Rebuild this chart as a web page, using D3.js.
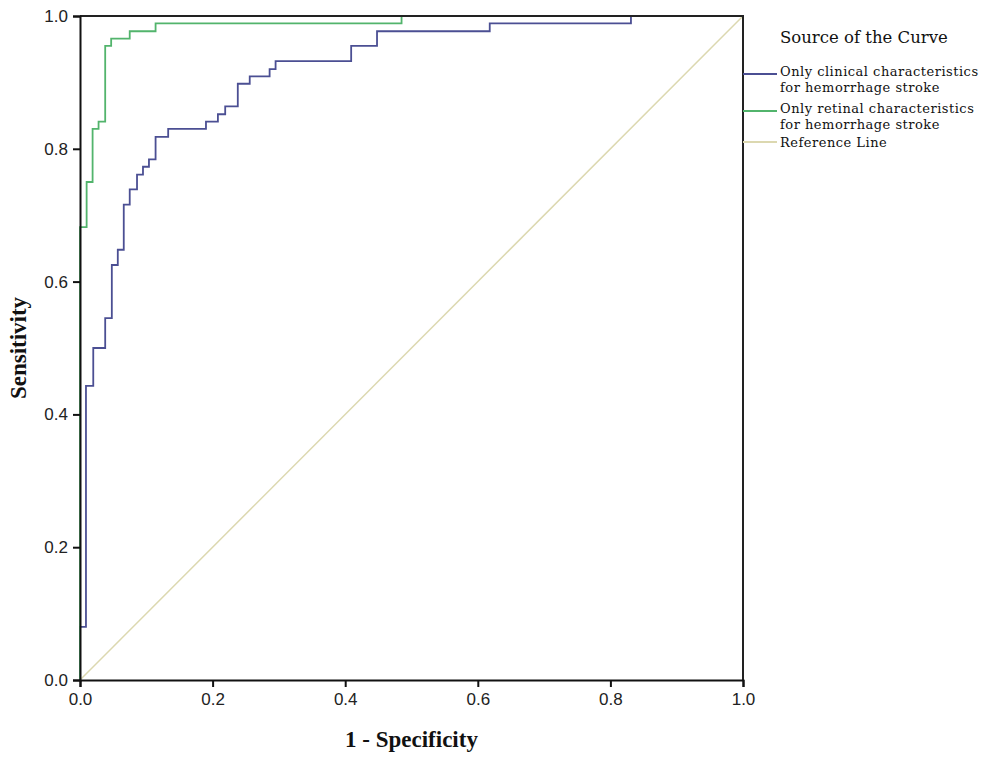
<!DOCTYPE html>
<html lang="en">
<head>
  <meta charset="UTF-8" />
  <title>ROC curves - hemorrhage stroke</title>
  <script src="https://d3js.org/d3.v7.min.js"></script>
  <style>
    body { margin: 0; background: #fff; }
    svg { display: block; }
    .tick text { font-family: "Liberation Sans", Arial, sans-serif; font-size: 17px; fill: #222; }
    .axis-title { font-family: "Liberation Serif", "Times New Roman", serif; font-weight: bold; font-size: 23px; fill: #111; }
    .legend text { font-family: "DejaVu Serif", serif; fill: #111; }
  </style>
</head>
<body>
<svg id="chart" width="992" height="758"></svg>
<script>
  // ROC points (1 - specificity, sensitivity), curve rises at each fpr
  const clinicalFpr = [0, 0, 0.009, 0.020, 0.038, 0.048, 0.057, 0.066, 0.075, 0.086, 0.095, 0.104, 0.114, 0.133,
                       0.190, 0.208, 0.219, 0.238, 0.256, 0.286, 0.295, 0.409, 0.448, 0.618, 0.831, 1];
  const clinicalTpr = [0, 0.080, 0.443, 0.500, 0.545, 0.625, 0.648, 0.716, 0.739, 0.761, 0.773, 0.784, 0.818, 0.830,
                       0.841, 0.852, 0.864, 0.898, 0.909, 0.920, 0.932, 0.955, 0.977, 0.989, 1, 1];

  const retinalFpr = [0, 0, 0.010, 0.019, 0.028, 0.038, 0.047, 0.075, 0.114, 0.485, 1];
  const retinalTpr = [0, 0.682, 0.750, 0.830, 0.841, 0.955, 0.966, 0.977, 0.989, 1, 1];

  const referenceFpr = [0, 1];
  const referenceTpr = [0, 1];

  const tickValues = [0, 0.2, 0.4, 0.6, 0.8, 1.0];

  const legendTitle = "Source of the Curve";
  const legendItems = [
    { lines: ["Only clinical characteristics", "for hemorrhage stroke"], color: "#4b4f93" },
    { lines: ["Only retinal characteristics", "for hemorrhage stroke"], color: "#52b46c" },
    { lines: ["Reference Line"], color: "#dcd8b0" }
  ];

  const svg = d3.select("#chart");
  const pLeft = 80, pRight = 743, pTop = 16, pBottom = 680;

  const x = d3.scaleLinear().domain([0, 1]).range([pLeft, pRight]);
  const y = d3.scaleLinear().domain([0, 1]).range([pBottom, pTop]);

  const zip = (a, b) => a.map((v, i) => [v, b[i]]);
  const stepLine = d3.line().x(d => x(d[0])).y(d => y(d[1])).curve(d3.curveStepAfter);
  const straight = d3.line().x(d => x(d[0])).y(d => y(d[1]));

  // reference diagonal
  svg.append("path")
    .attr("d", straight(zip(referenceFpr, referenceTpr)))
    .attr("fill", "none").attr("stroke", legendItems[2].color).attr("stroke-width", 1.5);

  svg.append("path")
    .attr("d", stepLine(zip(clinicalFpr, clinicalTpr)))
    .attr("fill", "none").attr("stroke", legendItems[0].color).attr("stroke-width", 1.8);

  svg.append("path")
    .attr("d", stepLine(zip(retinalFpr, retinalTpr)))
    .attr("fill", "none").attr("stroke", legendItems[1].color).attr("stroke-width", 1.8);

  // frame (top + right)
  svg.append("path")
    .attr("d", `M${pLeft},${pTop}H${pRight}V${pBottom}`)
    .attr("fill", "none").attr("stroke", "#222").attr("stroke-width", 2);

  const xAxis = svg.append("g")
    .attr("transform", `translate(0,${pBottom})`)
    .call(d3.axisBottom(x).tickValues(tickValues).tickFormat(d3.format(".1f")).tickSize(7).tickPadding(6));
  const yAxis = svg.append("g")
    .attr("transform", `translate(${pLeft},0)`)
    .call(d3.axisLeft(y).tickValues(tickValues).tickFormat(d3.format(".1f")).tickSize(7).tickPadding(5));
  [xAxis, yAxis].forEach(g => {
    g.select(".domain").attr("stroke", "#111").attr("stroke-width", 2);
    g.selectAll(".tick line").attr("stroke", "#111").attr("stroke-width", 2);
  });

  svg.append("text").attr("class", "axis-title")
    .attr("x", (pLeft + pRight) / 2).attr("y", 747)
    .attr("text-anchor", "middle").text("1 - Specificity");
  svg.append("text").attr("class", "axis-title")
    .attr("transform", `translate(26,${(pTop + pBottom) / 2}) rotate(-90)`)
    .attr("text-anchor", "middle").text("Sensitivity");

  // legend
  const legend = svg.append("g").attr("class", "legend");
  legend.append("text").attr("x", 780).attr("y", 43).attr("font-size", 16.5).text(legendTitle);
  const lineY = [74, 111, 142];
  const textY = [76, 113, 147];
  legendItems.forEach((item, i) => {
    legend.append("line")
      .attr("x1", pRight).attr("x2", 777)
      .attr("y1", lineY[i]).attr("y2", lineY[i])
      .attr("stroke", item.color).attr("stroke-width", 2);
    item.lines.forEach((t, j) => {
      legend.append("text").attr("x", 780).attr("y", textY[i] + j * 15.5)
        .attr("font-size", 13).attr("letter-spacing", 0.5).text(t);
    });
  });
</script>
</body>
</html>
